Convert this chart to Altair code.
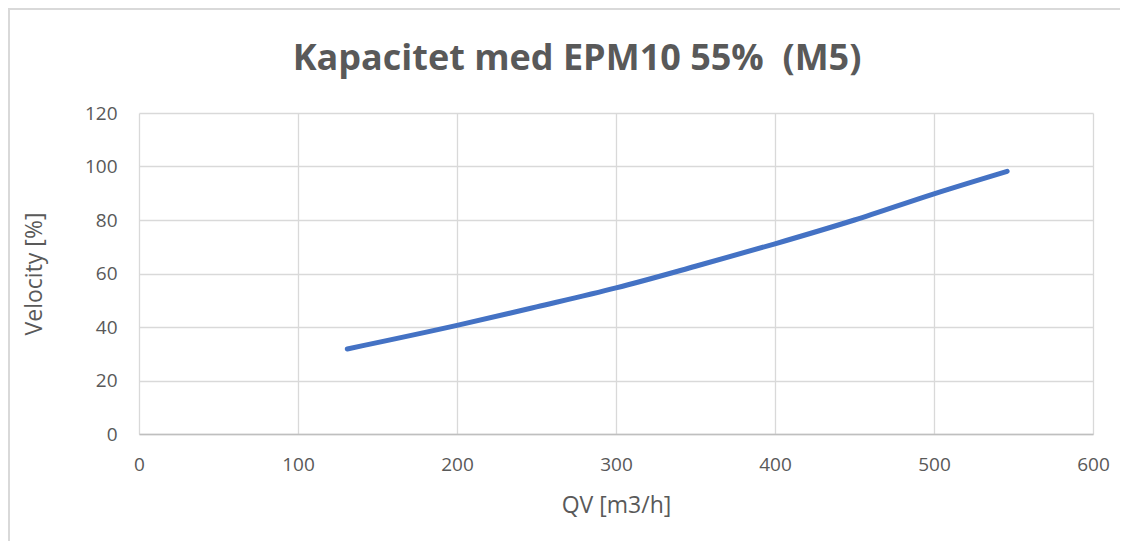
import altair as alt
import pandas as pd

qv = [131, 200, 250, 300, 350, 400, 450, 500, 546]
velocity = [31.8, 40.6, 47.5, 54.6, 62.7, 71.1, 80.0, 89.8, 98.2]

df = pd.DataFrame({"QV": qv, "Velocity": velocity})

FONT = "Open Sans"
GREY = "#595959"
W, H = 954, 321
PL, PT, PR, PB = 131, 105, 27, 107

line = alt.Chart(df).mark_line(
    color="#4472C4", strokeWidth=5, interpolate="monotone", strokeCap="round"
).encode(
    x=alt.X("QV:Q", title="QV [m3/h]",
            scale=alt.Scale(domain=[0, 600], nice=False),
            axis=alt.Axis(values=[0, 100, 200, 300, 400, 500, 600])),
    y=alt.Y("Velocity:Q", title="Velocity [%]",
            scale=alt.Scale(domain=[0, 120], nice=False),
            axis=alt.Axis(values=[0, 20, 40, 60, 80, 100, 120])),
)

border = alt.Chart(df).mark_rect(
    fill=None, stroke="#d9d9d9", strokeWidth=1.5
).encode(
    x=alt.value(-PL + 1), x2=alt.value(W + PR + 20),
    y=alt.value(-PT + 1), y2=alt.value(H + PB + 20),
)

chart = alt.layer(border, line).properties(
    width=W, height=H,
    padding={"left": PL, "top": PT, "right": PR, "bottom": PB},
    autosize=alt.AutoSizeParams(type="none"),
    title=alt.TitleParams(
        "Kapacitet med EPM10 55%\u00a0 (M5)",
        font=FONT, fontSize=36, fontWeight="bold", color=GREY,
        anchor="middle", frame="group", dx=-39, offset=-70,
    ),
).configure_view(stroke=None).configure_axis(
    labelFont=FONT, titleFont=FONT, labelColor=GREY, titleColor=GREY,
    labelFontSize=19, titleFontSize=23, titleFontWeight="normal",
    gridColor="#d9d9d9", gridWidth=1.3, ticks=False, labelFlush=False,
).configure_axisX(
    domainColor="#bfbfbf", domainWidth=1.3, labelPadding=21, titlePadding=20,
).configure_axisY(
    domain=False, labelPadding=22, titlePadding=38,
)

chart.save("out.html", embed_options={"renderer": "svg", "actions": False})
